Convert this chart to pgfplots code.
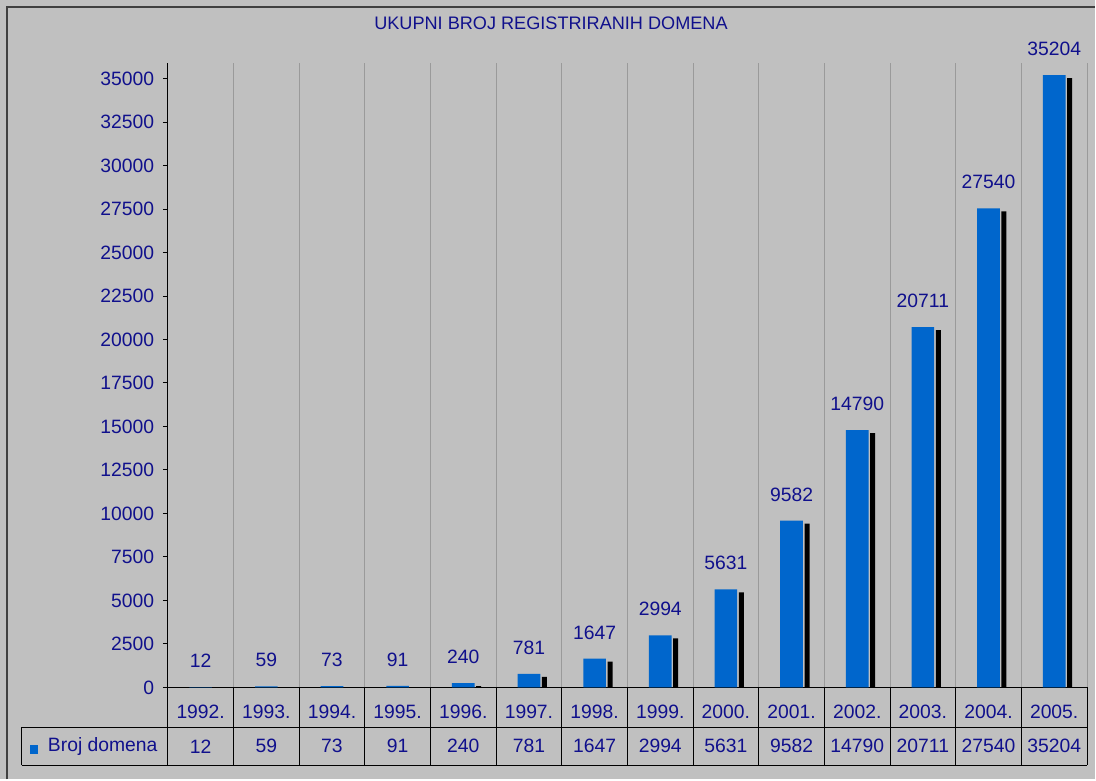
\documentclass[border=0pt]{standalone}
\usepackage{pgfplots}
\pgfplotsset{compat=1.18}
\usepackage{pgfplotstable}
\usepackage{fontspec}
\setmainfont{Liberation Sans}
\definecolor{bg}{HTML}{C0C0C0}
\definecolor{navy}{HTML}{10108C}
\definecolor{barblue}{HTML}{0066CC}
\definecolor{gridc}{HTML}{9A9A9A}
\newcommand\lf{\fontsize{14.5}{17}\selectfont}
\pgfplotstableread{
x year y
0 1992. 12
1 1993. 59
2 1994. 73
3 1995. 91
4 1996. 240
5 1997. 781
6 1998. 1647
7 1999. 2994
8 2000. 5631
9 2001. 9582
10 2002. 14790
11 2003. 20711
12 2004. 27540
13 2005. 35204
}\data
\begin{document}
\begin{tikzpicture}
\fill[bg] (0,0) rectangle (822pt,585pt);
\draw[line width=1.5pt, black!75] (5.5pt,0pt) -- (5.5pt,580pt) -- (822pt,580pt);
\node[font=\fontsize{13.6}{16}\selectfont, text=navy] at (413.6pt,567.4pt) {UKUPNI BROJ REGISTRIRANIH DOMENA};
\begin{axis}[
  at={(126pt,69pt)}, anchor=south west,
  width=690pt, height=468.75pt, scale only axis,
  xmin=-0.5, xmax=13.5, ymin=0, ymax=35900,
  axis x line*=bottom, axis y line*=left,
  axis line style={black, line width=0.75pt, -},
  clip mode=individual,
  ytick={0,2500,...,35000},
  scaled y ticks=false,
  /pgf/number format/.cd, 1000 sep={}, assume math mode=true, /pgfplots/.cd,
  yticklabel style={font=\lf, text=navy, xshift=-3pt},
  ytick style={black, line width=0.75pt},
  tick align=outside,
  major tick length=3.75pt,
  xtick={0,...,13},
  xticklabels from table={\data}{year},
  xtick style={draw=none},
  xticklabel style={font=\lf, text=navy, anchor=center, yshift=-15pt},
  minor xtick={0.5,1.5,...,13.5},
  minor tick length=0pt,
  xminorgrids,
  minor grid style={gridc, line width=0.75pt},
]
% drop shadow: the same bars, offset right and 3px down (top lowered by ~172 units)
\addplot[ybar, fill=black, draw=none, bar width=3.75pt, bar shift=11.6pt]
  table[x=x, y expr={max(\thisrow{y}-172,0)}]{\data};
\addplot[ybar, fill=barblue, draw=none, bar width=17pt, bar shift=0pt,
  nodes near coords, point meta=explicit symbolic,
  every node near coord/.append style={font=\lf, text=navy, anchor=south, inner sep=0pt, yshift=14.25pt}]
  table[x=x,y=y,meta=y]{\data};
\addplot[draw=none, mark=none, nodes near coords, point meta=explicit symbolic,
  every node near coord/.append style={font=\lf, text=navy, anchor=center, inner sep=0pt, yshift=-44.25pt}]
  table[x=x,y expr=0,meta=y]{\data};
\end{axis}
% data table grid
\draw[black, line width=0.75pt] (16.5pt,39pt) -- (816pt,39pt);
\draw[black, line width=0.75pt] (16.5pt,10.5pt) -- (816pt,10.5pt);
\draw[black, line width=0.75pt] (16.5pt,10.5pt) -- (16.5pt,39pt);
\foreach \k in {0,...,14} {
  \draw[black, line width=0.75pt] ({126pt+\k*49.2857pt},69pt) -- ({126pt+\k*49.2857pt},10.5pt);
}
\fill[barblue] (22.3pt,19.1pt) rectangle (28.9pt,25.7pt);
\node[font=\lf, text=navy, anchor=west, inner sep=0pt] at (35.8pt,24.75pt) {Broj domena};
\end{tikzpicture}
\end{document}
